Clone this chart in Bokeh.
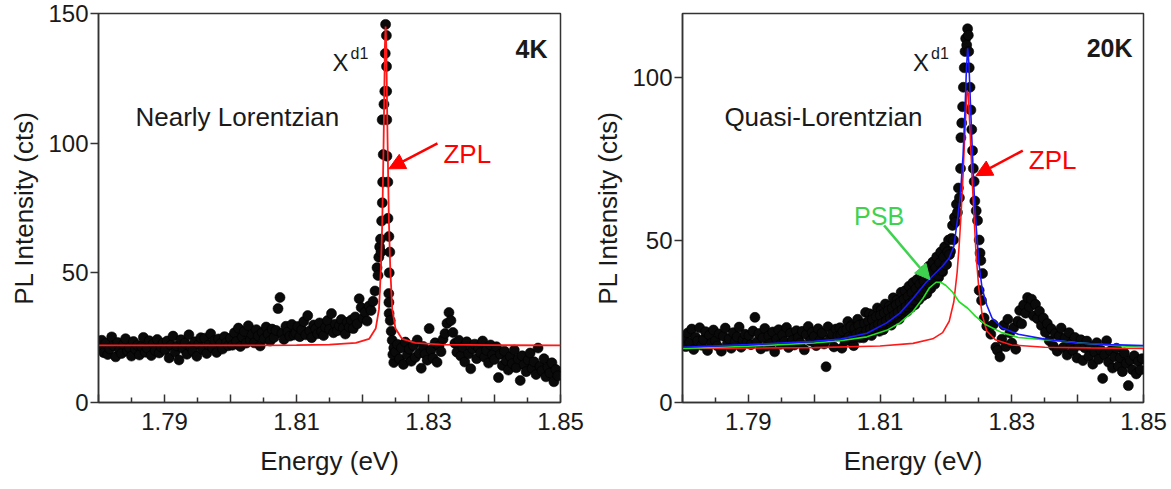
import numpy as np
from bokeh.plotting import figure
from bokeh.layouts import row
from bokeh.models import Range1d, FixedTicker, Label, Arrow, NormalHead
from bokeh.embed import file_html
from bokeh.resources import INLINE

# ------------------------------------------------------------------ data
e_step = 0.0003

# ---- 4 K panel
e4_low_start = 1.7802
i4_low = [21.5, 24.0, 19.2, 22.8, 18.5, 20.7, 25.3, 21.9, 17.6, 23.1, 20.2, 18.9, 22.4, 24.6, 19.8, 21.1,
          17.9, 23.5, 20.6, 22.0, 18.3, 21.7, 25.1, 19.4, 20.9, 23.8, 18.1, 22.6, 20.0, 24.3, 19.1, 21.4, 22.9,
          20.3, 23.7, 17.2, 22.1, 25.6, 19.5, 21.8, 16.4, 24.2, 20.8, 22.9, 18.6, 26.1, 21.3, 19.9, 23.4,
          17.8, 22.5, 25.0, 20.4, 24.8, 18.9, 22.2, 26.5, 21.0, 23.9, 19.3, 24.5, 22.7, 20.6, 25.4, 23.1, 21.9,
          24.8, 22.1, 26.9, 23.5, 28.7, 21.6, 25.3, 27.4, 22.9, 29.6, 24.1, 26.2, 23.0, 28.1, 25.7, 21.8,
          27.0, 24.6, 29.1, 26.4, 23.7, 28.3, 25.1, 27.8, 36.2, 40.5, 26.7, 24.3, 29.4, 27.2, 25.6, 30.1, 26.0,
          26.8, 29.3, 25.4, 28.0, 31.2, 26.1, 33.5, 27.6, 25.0, 29.9, 28.4, 26.5, 30.7, 27.3, 25.8, 29.0,
          31.6, 28.2, 34.3, 26.9, 30.2, 27.7, 29.6, 32.0, 28.8, 26.4, 30.9, 29.1, 31.8, 28.5, 33.0, 30.3,
          40.0, 36.6, 32.5, 34.8, 31.4, 37.2, 35.5, 39.0]
e4_peak = [1.8219, 1.8222, 1.82235, 1.82247, 1.8226, 1.82273, 1.8228, 1.8229, 1.8230, 1.82305, 1.82298,
           1.82314, 1.82325, 1.82338, 1.82345, 1.8235, 1.82362, 1.82364, 1.82366, 1.82368, 1.8237, 1.82384,
           1.82386, 1.8240, 1.82414, 1.82405, 1.82398, 1.8240, 1.82403, 1.8242, 1.82435, 1.8245, 1.82474,
           1.82474, 1.8246]
i4_peak = [43, 52, 49, 56, 60, 63, 58, 70, 77, 85, 109, 95.6, 115, 120, 134.6, 145.8, 141.5, 129.6, 120,
           109, 95, 85, 71, 64, 58, 50, 42, 38.6, 34.3, 31.6, 27.5, 24, 21, 15.4, 18.5]
e4_high_start = 1.8250
i4_high = [19.5, 22.4, 16.8, 21.0, 14.7, 23.3, 18.2, 20.6, 15.9, 22.0, 17.4, 24.1, 19.0, 13.2, 21.6, 18.7,
           16.3, 28.5, 20.3, 17.1, 23.0, 15.5, 21.8, 19.6, 24.4,
           26.6, 30.5, 34.7, 31.6, 27.0,
           22.8, 19.4, 24.0, 17.9, 21.3, 15.6, 23.4, 18.8, 13.0, 20.7, 22.5, 16.9, 21.1, 19.2, 23.7, 17.5,
           20.1, 15.2, 22.2, 18.4, 16.6, 21.5, 9.6,
           18.6, 14.3, 19.8, 16.1, 12.5, 17.7, 15.0, 20.2, 13.4, 16.8, 8.5, 18.0, 14.6, 11.9, 16.4, 19.1,
           13.1, 15.7, 10.8, 21.0, 14.0, 12.2, 16.9, 9.9, 13.6, 11.4, 15.3, 8.0, 12.7, 10.3]
zpl4_e = [1.7800, 1.8000, 1.8100, 1.8150, 1.8190, 1.8210, 1.8220, 1.8225, 1.8228, 1.8230, 1.8232, 1.8234,
          1.8235, 1.8236, 1.8238, 1.8240, 1.8242, 1.8245, 1.8250, 1.8260, 1.8280, 1.8320, 1.8400, 1.8500]
zpl4_i = [22.0, 22.0, 22.1, 22.3, 23.0, 24.5, 28.5, 36.0, 52.3, 70.0, 100.7, 137.8,
          145.0, 137.8, 100.7, 70.0, 52.3, 36.0, 28.5, 24.5, 23.0, 22.3, 22.1, 22.0]

# ---- 20 K panel
e20_low_start = 1.7802
i20_low = [19.8, 17.2, 21.4, 18.5, 22.6, 16.3, 20.1, 18.9, 23.0, 17.6, 19.4, 21.8, 16.0, 20.7, 18.2, 22.3,
           19.0, 17.4, 21.1, 15.8, 20.4, 22.9, 18.0, 19.6, 16.7, 21.5, 18.8, 20.2, 23.2, 17.0, 19.3, 21.0, 18.4,
           20.6, 17.8, 22.0, 26.2, 18.6, 21.2, 16.5, 19.9, 22.8, 17.3, 20.5, 18.1, 21.7, 15.6, 19.5, 22.4,
           17.9, 20.8, 18.7, 23.1, 16.9, 21.3, 19.1, 17.7, 22.1, 20.0, 18.3, 21.9, 16.2, 20.9, 23.4, 18.9, 21.6,
           20.3, 17.5, 22.7, 19.2, 21.4, 18.0, 11.0, 23.3, 19.7, 21.1, 17.1, 22.6, 20.5,
           23.0, 16.7, 21.4, 19.1, 24.9, 19.1, 23.8, 17.5, 22.3, 25.6, 19.9, 24.1, 19.9, 27.7, 22.5, 27.3,
           20.6, 26.9, 22.7, 29.1, 21.9, 28.5, 22.4, 30.3, 24.2, 29.6, 23.8, 32.2, 25.9, 31.5, 25.6, 33.9,
           27.3, 34.4, 28.0, 35.8, 29.2, 36.9, 30.1, 37.8, 31.6, 39.3, 32.8, 40.6, 33.5, 41.9, 35.1, 43.2,
           36.4, 44.8, 38.5, 46.3, 40.2, 47.9, 42.5, 50.0, 46.5, 54.5, 57.0, 61.0, 66.0]
# interleaved readings on the rising shoulder (between the channels above)
e20_mid_start = 1.80405
i20_mid = [20.8, 21.9, 19.0, 22.4, 20.1, 23.3, 20.0, 22.8, 21.0, 23.7, 21.6, 20.4, 24.3, 22.1, 25.0, 22.6,
           25.5, 23.2, 26.4, 24.0, 26.8, 24.3, 27.5, 25.1, 28.3, 26.0, 28.9, 26.8, 30.0, 27.7, 30.8, 28.6,
           31.7, 29.4, 32.6, 30.4, 33.8, 31.5, 35.0, 32.7, 36.4, 34.2, 37.4, 35.3, 38.9, 36.2, 40.1, 37.6,
           41.5, 39.1, 43.0, 40.6, 44.8, 42.3, 46.4, 45.5, 50.5, 50.0, 55.5, 58.5, 63.0]
e20_peak = [1.82222, 1.82227, 1.82240, 1.82253, 1.82265, 1.82278, 1.82290, 1.82300, 1.82315, 1.82329,
            1.82340, 1.82346, 1.82354, 1.82366, 1.82379, 1.82392, 1.82404, 1.82416, 1.82429, 1.82439,
            1.82460, 1.82480, 1.82505, 1.82505, 1.82518, 1.82530, 1.82541, 1.82556, 1.82580, 1.82620,
            1.82682, 1.82720, 1.82758, 1.82783]
i20_peak = [72, 81.5, 86, 91, 97, 103, 108, 112, 110, 115, 113, 108, 103, 97, 90, 84, 77.5, 72, 68, 62,
            59, 56, 50, 34.5, 46, 43.7, 31.4, 39.7, 26, 23.5, 21, 24, 17, 16]
e20_high_start = 1.8282
i20_high = [14.0, 19.5, 23.8, 17.2, 25.6, 21.4, 18.3, 23.0, 16.4, 25.0, 28.3, 24.2, 30.0, 27.5, 32.3, 29.4,
            31.8, 26.6, 30.2, 25.8, 28.1, 23.7, 26.0, 21.6, 24.3, 19.0, 22.7, 17.4, 21.2, 15.8, 20.4, 22.9,
            16.9, 19.8, 14.6, 21.5, 18.1, 16.0, 20.0, 13.7, 17.6, 19.3, 12.9, 16.8, 18.9, 14.2, 17.1, 11.8,
            15.5, 18.4, 13.3, 16.2, 7.4, 14.7, 19.0, 12.4, 15.9, 10.6, 14.1, 16.7, 11.2, 13.8, 9.5, 15.2,
            12.0, 5.2, 13.0, 10.1, 14.4, 8.8, 12.6, 10.0, 13.5]
zpl20_e = [1.7800, 1.8000, 1.8100, 1.8150, 1.8180, 1.8195, 1.8205, 1.8212, 1.8217, 1.8220, 1.8223, 1.8226,
           1.8229, 1.8232, 1.8234, 1.8237, 1.8240, 1.8243, 1.8246, 1.8250, 1.8255, 1.8262, 1.8275, 1.8300,
           1.8350, 1.8420, 1.8500]
zpl20_i = [16.6, 16.9, 17.4, 18.2, 19.6, 21.5, 25.0, 31.0, 40.0, 48.0, 58.0, 70.0, 84.0, 96.0, 95.0, 82.0,
           68.0, 56.0, 45.0, 35.0, 27.0, 22.0, 19.3, 17.7, 17.0, 16.8, 16.6]
psb20_e = [1.7800, 1.7900, 1.8000, 1.8040, 1.8080, 1.8110, 1.8130, 1.8150, 1.8165, 1.8175, 1.8185, 1.8192,
           1.8200, 1.8210, 1.8220, 1.8233, 1.8245, 1.8260, 1.8285, 1.8310, 1.8340, 1.8400, 1.8450, 1.8500]
psb20_i = [16.6, 17.3, 18.3, 19.0, 20.2, 22.2, 24.5, 28.0, 32.0, 35.3, 37.0, 37.0, 36.0, 34.0, 31.0, 29.0,
           26.5, 24.0, 21.5, 20.0, 19.5, 18.4, 17.6, 17.0]
tot20_e = [1.7800, 1.7900, 1.8000, 1.8040, 1.8080, 1.8110, 1.8130, 1.8150, 1.8170, 1.8185, 1.8195, 1.8205,
           1.8212, 1.8218, 1.8222, 1.8226, 1.8229, 1.8231, 1.8233, 1.8235, 1.8237, 1.8240, 1.8243, 1.8246,
           1.8250, 1.8255, 1.8262, 1.8270, 1.8285, 1.8310, 1.8350, 1.8400, 1.8450, 1.8500]
tot20_i = [17.0, 17.8, 18.8, 19.5, 21.3, 24.5, 27.5, 32.0, 37.0, 40.0, 42.0, 44.5, 48.0, 57.0, 64.0, 76.0,
           90.0, 102.0, 109.0, 104.0, 93.0, 78.0, 64.0, 54.0, 43.0, 35.0, 30.0, 26.0, 23.0, 21.0, 19.5, 18.3,
           17.8, 17.5]

x_ticks = [1.78, 1.79, 1.80, 1.81, 1.82, 1.83, 1.84, 1.85]
x_tick_labels = ["", "1.79", "", "1.81", "", "1.83", "", "1.85"]
x_minor_ticks = [1.785, 1.795, 1.805, 1.815, 1.825, 1.835, 1.845]

# ------------------------------------------------------------------ style
FONT = "Liberation Sans"
TXT = "#1a1a1a"
AX = "#333333"
RED = "#ff1a1a"
BLUE = "#1a1aff"
GREEN = "#22e022"
GREEN_T = "#3fd24f"


def grid(start, vals):
    return [round(start + k * e_step, 5) for k in range(len(vals))]


def make_fig(width, y_top, y_ticks, left, right):
    p = figure(width=width, height=489, x_range=Range1d(1.78, 1.85), y_range=Range1d(0, y_top),
               output_backend="svg", toolbar_location=None,
               min_border_left=left, min_border_right=right, min_border_top=13, min_border_bottom=87)
    p.xgrid.visible = False
    p.ygrid.visible = False
    p.background_fill_color = "white"
    p.border_fill_color = "white"
    p.outline_line_color = AX
    p.outline_line_width = 1.5
    p.outline_line_alpha = 1.0

    xa = p.xaxis[0]
    xa.ticker = FixedTicker(ticks=x_ticks, minor_ticks=x_minor_ticks)
    xa.major_label_overrides = dict(zip(x_ticks, x_tick_labels))
    xa.major_tick_in = 8
    xa.major_tick_out = 0
    xa.minor_tick_in = 5
    xa.minor_tick_out = 0
    xa.axis_label = "Energy (eV)"
    xa.major_label_standoff = 10
    xa.axis_label_standoff = 13

    ya = p.yaxis[0]
    ya.ticker = FixedTicker(ticks=y_ticks, minor_ticks=[])
    ya.major_tick_in = 0
    ya.major_tick_out = 8
    ya.minor_tick_in = 0
    ya.minor_tick_out = 0
    ya.axis_label = "PL Intensity (cts)"
    ya.major_label_standoff = 2
    ya.axis_label_standoff = 6

    for ax in (xa, ya):
        ax.axis_line_color = AX
        ax.axis_line_width = 1.5
        ax.major_tick_line_color = AX
        ax.major_tick_line_width = 1.5
        ax.minor_tick_line_color = AX
        ax.minor_tick_line_width = 1.5
        ax.major_label_text_font = FONT
        ax.major_label_text_font_size = "24px"
        ax.major_label_text_color = TXT
        ax.axis_label_text_font = FONT
        ax.axis_label_text_font_size = "26px"
        ax.axis_label_text_font_style = "normal"
        ax.axis_label_text_color = TXT
    return p


def add_label(p, x, y, text, size, color=TXT, style="normal", align="left"):
    p.add_layout(Label(x=x, y=y, text=text, text_font=FONT, text_font_size=size, text_color=color,
                       text_font_style=style, text_align=align, text_baseline="alphabetic"))


def add_arrow(p, xs, ys, xe, ye, color, size):
    p.add_layout(Arrow(end=NormalHead(size=size, fill_color=color, line_color=color),
                       x_start=xs, y_start=ys, x_end=xe, y_end=ye, line_color=color, line_width=2.5))


def add_points(p, xs, ys):
    p.scatter(xs, ys, size=10, fill_color="#0a0a0a", line_color="#000000", line_width=0.6)


# ------------------------------------------------------------------ 4 K
p1 = make_fig(590, 150, [0, 50, 100, 150], 98, 30)
add_points(p1,
           grid(e4_low_start, i4_low) + e4_peak + grid(e4_high_start, i4_high),
           i4_low + i4_peak + i4_high)
p1.line(zpl4_e, zpl4_i, line_color=RED, line_width=1.8)
add_label(p1, 1.7856, 109.9, "Nearly Lorentzian", "26px")
add_label(p1, 1.81545, 131.1, "X", "24px")
add_label(p1, 1.81818, 134.6, "d1", "16px")
add_label(p1, 1.84803, 136.5, "4K", "25px", style="bold", align="right")
add_label(p1, 1.83227, 96.0, "ZPL", "26px", color="#ff0000")
add_arrow(p1, 1.83136, 99.9, 1.82398, 90.1, "#ff0000", 16)

# ------------------------------------------------------------------ 20 K
p2 = make_fig(581, 119.7, [0, 50, 100], 91, 28)
add_points(p2,
           grid(e20_low_start, i20_low) + grid(e20_mid_start, i20_mid) + e20_peak + grid(e20_high_start, i20_high),
           i20_low + i20_mid + i20_peak + i20_high)
p2.line(zpl20_e, zpl20_i, line_color=RED, line_width=1.6)
p2.line(psb20_e, psb20_i, line_color=GREEN, line_width=1.6)
p2.line(tot20_e, tot20_i, line_color=BLUE, line_width=1.6)
add_label(p2, 1.78636, 87.7, "Quasi-Lorentzian", "26px")
add_label(p2, 1.8150, 104.6, "X", "24px")
add_label(p2, 1.81773, 107.4, "d1", "16px")
add_label(p2, 1.84833, 109.2, "20K", "25px", style="bold", align="right")
add_label(p2, 1.83258, 74.5, "ZPL", "26px", color="#ff0000")
add_arrow(p2, 1.83167, 77.5, 1.82455, 69.8, "#ff0000", 16)
add_label(p2, 1.80606, 57.5, "PSB", "25px", color=GREEN_T)
add_arrow(p2, 1.81061, 54.5, 1.81758, 37.8, GREEN_T, 15)

layout = row(p1, p2)
open("out.html", "w").write(file_html(layout, INLINE))
